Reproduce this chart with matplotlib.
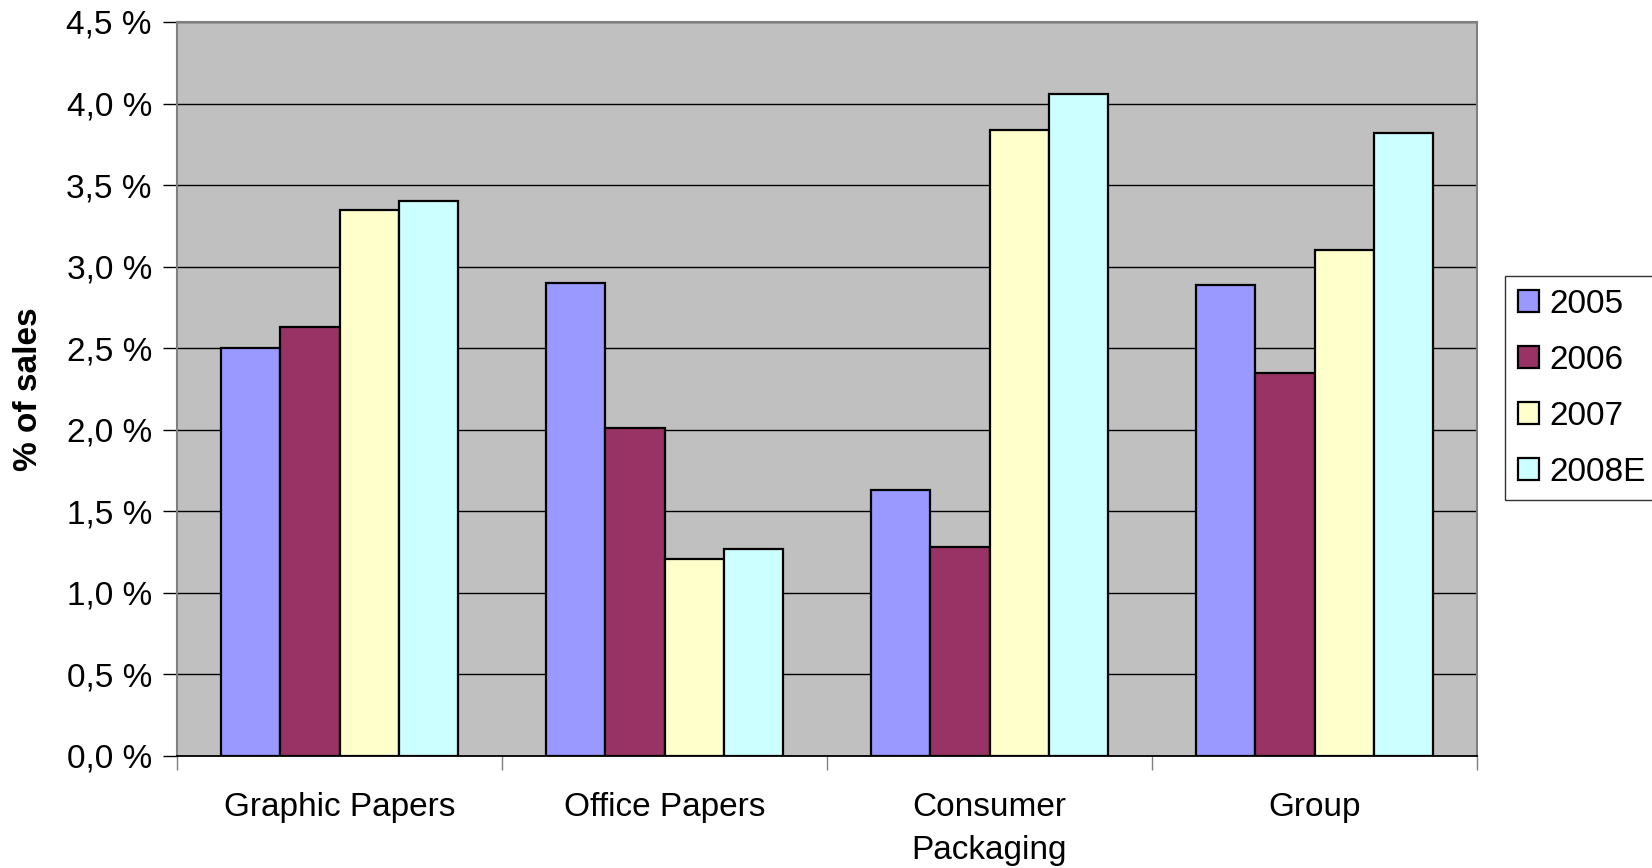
import matplotlib
matplotlib.use("Agg")
import matplotlib.pyplot as plt
import numpy as np
from matplotlib.ticker import FuncFormatter, FixedLocator

plt.rcParams['font.family'] = ['Liberation Sans', 'DejaVu Sans']

categories = ["Graphic Papers", "Office Papers", "Consumer\nPackaging", "Group"]
series_names = ["2005", "2006", "2007", "2008E"]
v2005 = [2.50, 2.90, 1.63, 2.89]
v2006 = [2.63, 2.01, 1.28, 2.35]
v2007 = [3.35, 1.21, 3.84, 3.10]
v2008 = [3.40, 1.27, 4.06, 3.82]
series_values = [v2005, v2006, v2007, v2008]
colors = ["#9999FF", "#993366", "#FFFFCC", "#CCFFFF"]
yticks = [0.0, 0.5, 1.0, 1.5, 2.0, 2.5, 3.0, 3.5, 4.0, 4.5]

fig = plt.figure(figsize=(16.52, 8.68), dpi=100)
ax = fig.add_axes([177/1652, 1-756/868, 1300/1652, (756-22)/868])
ax.set_facecolor("#C0C0C0")

x = np.arange(len(categories))
w = 1/5.5
for i, (name, vals, c) in enumerate(zip(series_names, series_values, colors)):
    ax.bar(x + (i-1.5)*w, vals, w, color=c, edgecolor="black", linewidth=1.6,
           label=name, zorder=3)

ax.set_xlim(-0.5, len(categories)-0.5)
ax.set_ylim(0, 4.5)
ax.set_yticks(yticks)
ax.yaxis.set_major_formatter(FuncFormatter(lambda v, p: f"{v:.1f} %".replace(".", ",")))
ax.grid(axis="y", color="black", linewidth=1.0, zorder=1)
ax.set_axisbelow(True)

ax.set_xticks(x)
ax.set_xticklabels(categories, linespacing=1.5)
ax.xaxis.set_minor_locator(FixedLocator(np.arange(-0.5, len(categories), 1.0)))
ax.tick_params(axis="x", which="major", length=0, pad=26, labelsize=24)
ax.tick_params(axis="x", which="minor", length=10, width=1.0, color="#808080")
ax.tick_params(axis="y", length=10, width=1.0, labelsize=24, pad=8, color="black")
for lab in ax.get_xticklabels():
    lab.set_verticalalignment("top")

for s in ["top", "right", "left"]:
    ax.spines[s].set_color("#808080")
    ax.spines[s].set_linewidth(1.5)
ax.spines["bottom"].set_color("black")
ax.spines["bottom"].set_linewidth(1.3)

ax.set_ylabel("% of sales", fontsize=24, fontweight="bold", labelpad=16)

leg = fig.legend(loc="upper left", bbox_to_anchor=(1505/1652, 1-276/868),
                 fontsize=24, frameon=True, fancybox=False, edgecolor="black",
                 handlelength=0.65, handleheight=0.65, handletextpad=0.3,
                 labelspacing=0.75, borderpad=0.38, borderaxespad=0)
leg.get_frame().set_linewidth(1.0)

fig.savefig("out.png", dpi=100, facecolor="white")
